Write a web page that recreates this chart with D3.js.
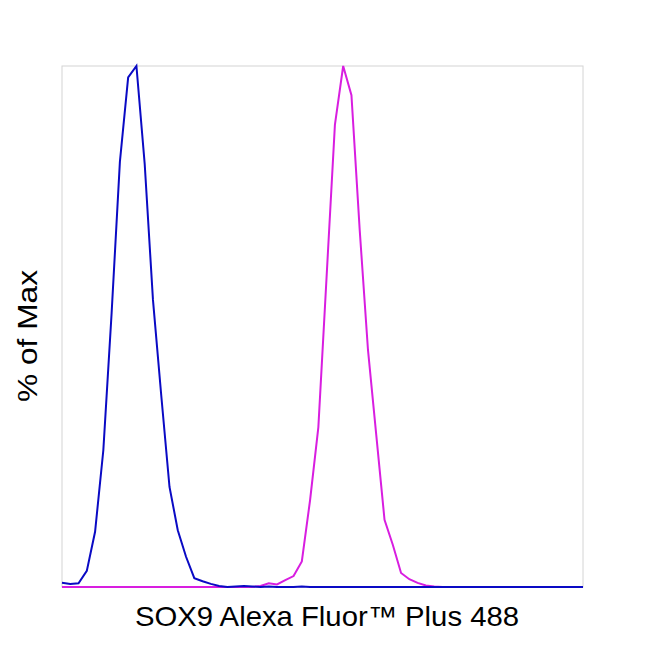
<!DOCTYPE html>
<html>
<head>
<meta charset="utf-8">
<script src="https://cdn.jsdelivr.net/npm/d3@7"></script>
<style>
  body { margin: 0; background: #fff; }
  text { font-family: Arial, "Liberation Sans", sans-serif; fill: #000; }
</style>
</head>
<body>
<div id="chart"></div>
<script>

// channel index along the fluorescence axis (64 bins)
const channels = d3.range(64);

// isotype / unstained control (blue)
const control = [
  0.8, 0.6, 0.7, 3.1, 10.6, 26.3, 52.6, 81.6, 97.8, 100,
  81.2, 55.1, 36.8, 19.2, 10.9, 5.8, 1.7, 1.1, 0.6, 0.2,
  0, 0.1, 0.2, 0.1, 0, 0.1, 0, 0, 0, 0.1,
  0, 0, 0, 0, 0, 0, 0, 0, 0, 0,
  0, 0, 0, 0, 0, 0, 0, 0, 0, 0,
  0, 0, 0, 0, 0, 0, 0, 0, 0, 0,
  0, 0, 0, 0
];

// SOX9 stained sample (magenta)
const stained = [
  0, 0, 0, 0, 0, 0, 0, 0, 0, 0,
  0, 0, 0, 0, 0, 0, 0, 0, 0, 0,
  0, 0, 0, 0, 0.2, 0.7, 0.5, 1.3, 2.1, 4.9,
  16.7, 30.7, 59.7, 88.7, 100, 94.4, 68.5, 45.5, 29.2, 12.9,
  8.1, 2.7, 1.5, 0.8, 0.3, 0.1, 0, 0, 0, 0,
  0, 0, 0, 0, 0, 0, 0, 0, 0, 0,
  0, 0, 0, 0
];

const xLabel = 'SOX9 Alexa Fluor™ Plus 488',
      yLabel = '% of Max';

const W = 650, H = 650,
      plotL = 62, plotR = 583, plotT = 66, plotB = 587;

const svg = d3.select('#chart').append('svg')
  .attr('width', W)
  .attr('height', H);

const x = d3.scaleLinear().domain([0, channels.length - 1]).range([plotL, plotR]);
const y = d3.scaleLinear().domain([0, 100]).range([plotB, plotT]);

// frame
svg.append('rect')
  .attr('x', plotL)
  .attr('y', plotT)
  .attr('width', plotR - plotL)
  .attr('height', plotB - plotT)
  .attr('fill', 'none')
  .attr('stroke', '#d4d4d4')
  .attr('stroke-width', 1);

const line = d3.line()
  .x((d, i) => x(channels[i]))
  .y(d => y(d));

svg.append('path')
  .datum(stained)
  .attr('d', line)
  .attr('fill', 'none')
  .attr('stroke', '#d81ee0')
  .attr('stroke-width', 2);

svg.append('path')
  .datum(control)
  .attr('d', line)
  .attr('fill', 'none')
  .attr('stroke', '#0a0ac4')
  .attr('stroke-width', 2);

// axis titles
svg.append('text')
  .attr('x', 327)
  .attr('y', 626)
  .attr('text-anchor', 'middle')
  .attr('textLength', 384)
  .attr('lengthAdjust', 'spacingAndGlyphs')
  .style('font-size', '28px')
  .text(xLabel);

svg.append('text')
  .attr('transform', 'translate(37, 336) rotate(-90)')
  .attr('text-anchor', 'middle')
  .attr('textLength', 132)
  .attr('lengthAdjust', 'spacingAndGlyphs')
  .style('font-size', '28px')
  .text(yLabel);

</script>
</body>
</html>
